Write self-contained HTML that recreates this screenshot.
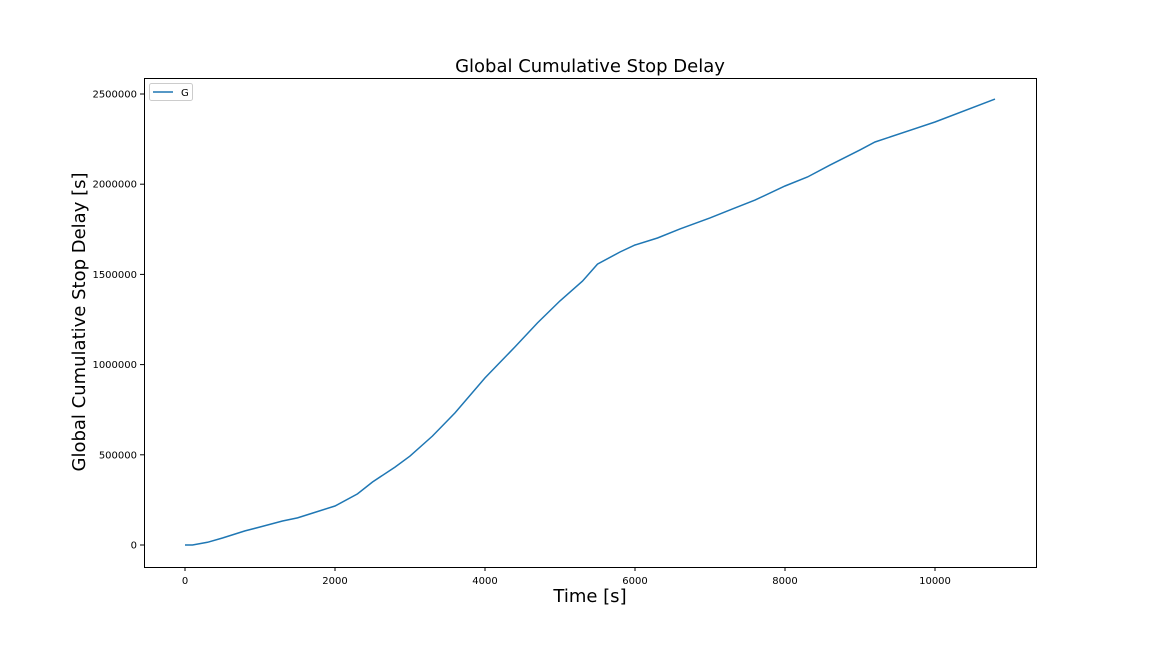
<!DOCTYPE html>
<html><head><meta charset="utf-8"><style>
body{margin:0;background:#fff;}
svg text{font-family:"DejaVu Sans","Liberation Sans",sans-serif;}
</style></head><body>
<svg id="chart" width="1152" height="648" xmlns="http://www.w3.org/2000/svg">
<rect width="1152" height="648" fill="#fff"/>
<text x="590" y="72" font-size="18" text-anchor="middle">Global Cumulative Stop Delay</text>
<text x="590" y="602" font-size="18" text-anchor="middle">Time [s]</text>
<text transform="translate(85,322) rotate(-90)" font-size="18" text-anchor="middle">Global Cumulative Stop Delay [s]</text>
<g id="ticks"></g>
<path id="line" fill="none" stroke="#1f77b4" stroke-width="1.5"/>
<rect x="144.5" y="78.5" width="892" height="489" fill="none" stroke="#000" stroke-width="1"/>
<g>
<rect x="149.5" y="83.5" width="43" height="17" rx="2" fill="#fff" stroke="#ccc"/>
<line x1="153" y1="92" x2="173" y2="92" stroke="#1f77b4" stroke-width="1.5"/>
<text x="181" y="96" font-size="10">G</text>
</g>
</svg>
<script>
const times=[0,100,300,500,800,1000,1300,1500,1700,2000,2300,2500,2800,3000,3300,3600,4000,4400,4700,5000,5300,5500,5800,6000,6300,6600,7000,7300,7600,8000,8300,8600,9000,9200,10000,10800];
const delays=[0,0,15000,39000,78000,100000,133000,150000,177000,216000,283000,349000,432000,493000,604000,732000,926000,1098000,1231000,1353000,1463000,1557000,1624000,1663000,1702000,1752000,1813000,1863000,1912000,1990000,2040000,2106000,2190000,2234000,2345000,2472000];
const xTicks=[0,2000,4000,6000,8000,10000];
const yTicks=[0,500000,1000000,1500000,2000000,2500000];
function xs(t){return 185+t*0.075;}
function ys(v){return 545-v*(451/2500000);}
const ns="http://www.w3.org/2000/svg";
const g=document.getElementById('ticks');
xTicks.forEach(t=>{
 const l=document.createElementNS(ns,'line');
 l.setAttribute('x1',xs(t));l.setAttribute('x2',xs(t));l.setAttribute('y1',567);l.setAttribute('y2',571);l.setAttribute('stroke','#000');
 
 
 g.appendChild(l);
 const tx=document.createElementNS(ns,'text');
 tx.setAttribute('x',xs(t));tx.setAttribute('y',584);tx.setAttribute('font-size','10');tx.setAttribute('text-anchor','middle');
 tx.textContent=t;
 
 
 g.appendChild(tx);
});
yTicks.forEach(v=>{
 const l=document.createElementNS(ns,'line');
 l.setAttribute('x1',140);l.setAttribute('x2',144);l.setAttribute('y1',ys(v));l.setAttribute('y2',ys(v));l.setAttribute('stroke','#000');
 
 
 g.appendChild(l);
 const tx=document.createElementNS(ns,'text');
 tx.setAttribute('x',137);tx.setAttribute('y',ys(v)+3.5);tx.setAttribute('font-size','10');tx.setAttribute('text-anchor','end');
 tx.textContent=v;
 
 
 g.appendChild(tx);
});
document.getElementById('line').setAttribute('d',times.map((t,i)=>(i?'L':'M')+xs(t).toFixed(1)+','+ys(delays[i]).toFixed(1)).join(''));
</script>
</body></html>
